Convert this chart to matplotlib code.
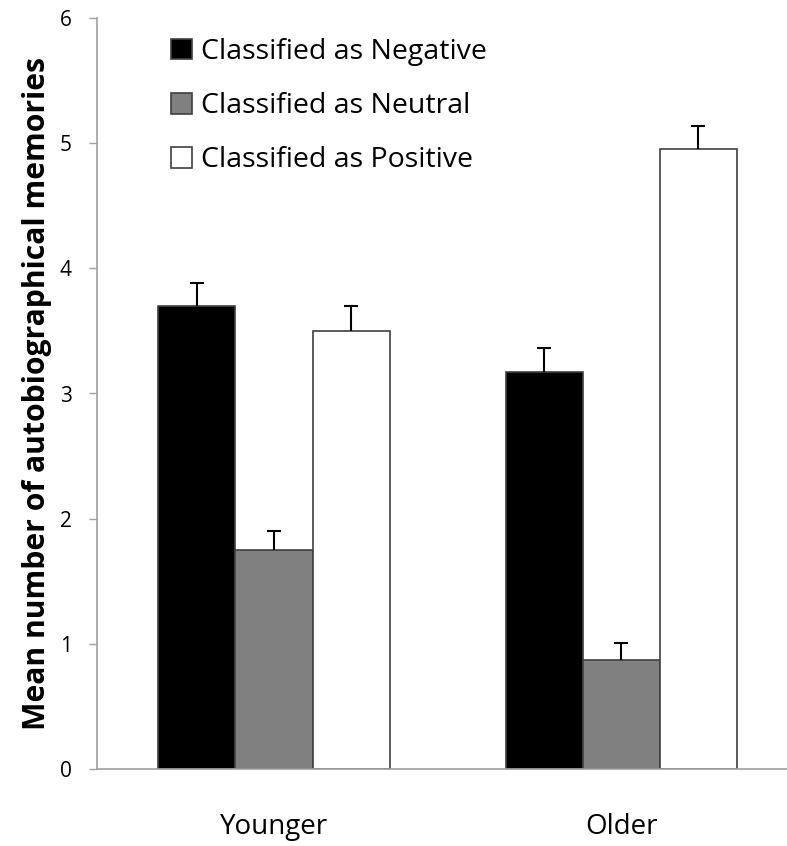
import matplotlib.pyplot as plt
import numpy as np

# datos
grupos = ['Younger', 'Older']
series = ['Classified as Negative', 'Classified as Neutral', 'Classified as Positive']
medias = [[3.70, 3.17],
          [1.75, 0.87],
          [3.50, 4.95]]
errores = [[0.18, 0.19],
           [0.15, 0.14],
           [0.20, 0.19]]
colores = ['#000000', '#808080', '#ffffff']

plt.rcParams['font.family'] = ['Open Sans', 'DejaVu Sans']

fig = plt.figure(figsize=(7.87, 8.46), dpi=100)
ax = fig.add_axes([97/787, 1-769/846, 1-97/787, (769-18)/846])

x = np.arange(len(grupos))
ancho = 0.222
for i in range(len(series)):
    pos = x + (i-1)*ancho
    ax.bar(pos, medias[i], ancho, color=colores[i], edgecolor='#404040',
           linewidth=1.2, label=series[i], zorder=2)
    eb = ax.errorbar(pos, medias[i], yerr=[np.zeros(len(grupos)), errores[i]],
                     fmt='none', ecolor='black', elinewidth=1.5, capsize=5,
                     capthick=1.5, zorder=3)
    # solo la barra de error superior
    eb[1][0].set_visible(False)

ax.set_xlim(-0.51, 1.478)
ax.set_ylim(0, 6)
ax.set_yticks(range(0, 7))
ax.set_xticks(x)
ax.set_xticklabels(grupos, fontsize=20)
ax.tick_params(axis='x', length=0, pad=32)
ax.tick_params(axis='y', length=6, width=1, color='#a0a0a0', labelsize=15, pad=12)
for s in ['top', 'right']:
    ax.spines[s].set_visible(False)
for s in ['left', 'bottom']:
    ax.spines[s].set_color('#a0a0a0')
    ax.spines[s].set_linewidth(1.2)
ax.set_ylabel('Mean number of autobiographical memories', fontsize=21.7,
              fontweight='bold', labelpad=6)

ax.legend(loc='upper left', bbox_to_anchor=(0.078, 1.0), frameon=False,
          fontsize=20.5, handlelength=0.75, handleheight=0.75, handletextpad=0.3,
          labelspacing=0.92, borderaxespad=0.3)

plt.savefig('out.png', dpi=100)
